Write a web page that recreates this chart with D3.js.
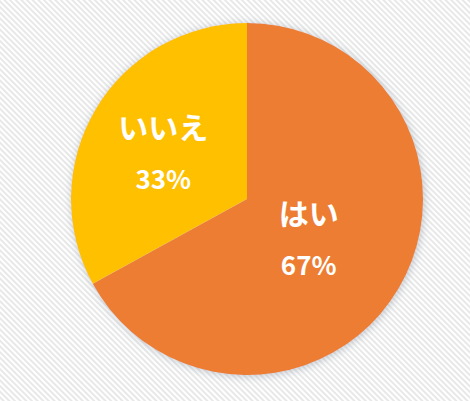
<!DOCTYPE html>
<html>
<head>
<meta charset="utf-8">
<script src="https://cdn.jsdelivr.net/npm/d3@7/dist/d3.min.js"></script>
<style>
  html, body { margin: 0; padding: 0; background: #fff; }
  #chart { width: 470px; height: 401px; }
</style>
</head>
<body>
<div id="chart"></div>
<script>
// slice names, values and colours
var categories = ['はい', 'いいえ'];
var values = [67, 33];
var colors = ['#ED7D31', '#FFC000'];

var width = 470;
var height = 401;
var cx = 247;
var cy = 199;
var radius = 176;

var svg = d3.select('#chart').append('svg')
    .attr('width', width)
    .attr('height', height);

var defs = svg.append('defs');

// diagonal stripe background
var pattern = defs.append('pattern')
    .attr('id', 'stripes')
    .attr('patternUnits', 'userSpaceOnUse')
    .attr('width', 4)
    .attr('height', 4)
    .attr('patternTransform', 'rotate(45)');
pattern.append('rect')
    .attr('width', 4).attr('height', 4).attr('fill', '#ffffff');
pattern.append('rect')
    .attr('width', 4).attr('height', 1.8).attr('fill', '#e6e6e6');

// soft shadow round the pie
var shadow = defs.append('filter')
    .attr('id', 'shadow')
    .attr('x', '-20%').attr('y', '-20%')
    .attr('width', '140%').attr('height', '140%');
shadow.append('feDropShadow')
    .attr('dx', 1).attr('dy', 1)
    .attr('stdDeviation', 4)
    .attr('flood-color', '#8a96a3')
    .attr('flood-opacity', 0.55);

svg.append('rect')
    .attr('width', width)
    .attr('height', height)
    .attr('fill', 'url(#stripes)');

var pie = d3.pie()
    .sort(null)
    .value(function (d) { return d; });

var arcs = pie(values);
var total = d3.sum(values);

var arc = d3.arc()
    .innerRadius(0)
    .outerRadius(radius);

// labels sit about half way out, nudged a little left like excel does
var labelArc = d3.arc()
    .innerRadius(radius * 0.48)
    .outerRadius(radius * 0.48);

var g = svg.append('g')
    .attr('transform', 'translate(' + cx + ',' + cy + ')');

g.append('g')
    .attr('filter', 'url(#shadow)')
    .selectAll('path')
    .data(arcs)
    .enter().append('path')
    .attr('d', arc)
    .attr('fill', function (d, i) { return colors[i]; });

var labels = g.selectAll('g.label')
    .data(arcs)
    .enter().append('g')
    .attr('class', 'label')
    .attr('transform', function (d) {
        var c = labelArc.centroid(d);
        return 'translate(' + (c[0] - 11) + ',' + c[1] + ')';
    });

labels.append('text')
    .attr('y', -17)
    .attr('text-anchor', 'middle')
    .attr('font-family', '"Noto Sans CJK JP", sans-serif')
    .attr('font-weight', 'bold')
    .attr('font-size', 30)
    .attr('fill', '#fff')
    .text(function (d, i) { return categories[i]; });

labels.append('text')
    .attr('y', 33)
    .attr('text-anchor', 'middle')
    .attr('font-family', '"Noto Sans CJK JP", sans-serif')
    .attr('font-weight', 'bold')
    .attr('font-size', 26)
    .attr('fill', '#fff')
    .text(function (d) { return Math.round(d.value / total * 100) + '%'; });
</script>
</body>
</html>
